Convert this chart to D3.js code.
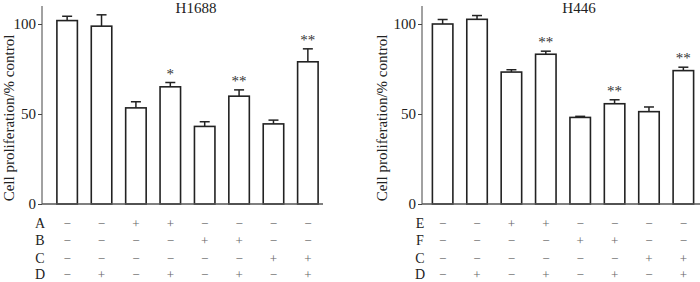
<!DOCTYPE html>
<html><head><meta charset="utf-8">
<script src="https://cdn.jsdelivr.net/npm/d3@7"></script>
<style>body{margin:0;background:#fff}svg{display:block}text{font-family:"Liberation Serif","Times New Roman",serif !important}</style>
</head><body><svg id="c" width="700" height="282"></svg>
<script>
const groups = ["1","2","3","4","5","6","7","8"];
const titleLeft = "H1688";
const titleRight = "H446";
const leftValues = [101.9, 98.8, 53.4, 65.1, 43.1, 59.9, 44.5, 79.0];
const leftErrors = [2.4, 6.3, 3.4, 2.4, 2.6, 3.5, 2.1, 7.2];
const leftStars = ["", "", "", "*", "", "**", "", "**"];
const rightValues = [100.0, 102.6, 73.3, 83.2, 48.1, 55.7, 51.3, 74.1];
const rightErrors = [2.5, 2.1, 1.3, 1.7, 0.6, 2.2, 2.6, 1.9];
const rightStars = ["", "", "", "**", "", "**", "", "**"];
const yTicks = [0, 50, 100];
const yLabel = "Cell proliferation/% control";
const leftRowLabels = ["A", "B", "C", "D"];
const rightRowLabels = ["E", "F", "C", "D"];
const treatmentRows = [
  ["−","−","+","+","−","−","−","−"],
  ["−","−","−","−","+","+","−","−"],
  ["−","−","−","−","−","−","+","+"],
  ["−","+","−","+","−","+","−","+"]
];

const svg = d3.select("#c");
const y = d3.scaleLinear().domain([0, 110]).range([204, 6]);

function panel(ox, axisX, axisEnd, title, values, errors, stars, rowLabels, titleX, labelX) {
  const g = svg.append("g");
  const x = d3.scaleBand().domain(groups).range([ox, ox + 289]).paddingInner(0.404).paddingOuter(0.404);
  const bw = x.bandwidth();
  const ax = g.append("g").attr("transform", `translate(${axisX},0)`)
    .call(d3.axisLeft(y).tickValues(yTicks).tickSize(4).tickPadding(2).tickFormat(d3.format("d")));
  ax.select(".domain").attr("d", `M0,${y(110)}V${y(0)}`).attr("stroke", "#444");
  ax.selectAll(".tick line").attr("stroke", "#444");
  ax.selectAll(".tick text").attr("font-size", 15).attr("fill", "#222");
  groups.forEach((k, i) => {
    const cx = x(k) + bw / 2;
    const top = y(values[i] + errors[i]);
    g.append("line").attr("x1", cx).attr("x2", cx).attr("y1", y(values[i])).attr("y2", top)
      .attr("stroke", "#222").attr("stroke-width", 1.5);
    g.append("line").attr("x1", cx - 5).attr("x2", cx + 5).attr("y1", top).attr("y2", top)
      .attr("stroke", "#222").attr("stroke-width", 1.5);
    if (stars[i]) {
      g.append("text").attr("x", cx).attr("y", top - 4).attr("text-anchor", "middle")
        .attr("font-size", 15).attr("fill", "#333").text(stars[i]);
    }
  });
  g.selectAll("rect.bar").data(values).join("rect").attr("class", "bar")
    .attr("x", (d, i) => x(groups[i])).attr("width", bw)
    .attr("y", d => y(d)).attr("height", d => y(0) - y(d))
    .attr("fill", "#fff").attr("stroke", "#222").attr("stroke-width", 1.6);
  g.append("line").attr("x1", axisX).attr("x2", axisEnd).attr("y1", y(0)).attr("y2", y(0))
    .attr("stroke", "#555").attr("stroke-width", 1.5);
  g.append("text").attr("x", titleX).attr("y", 13).attr("text-anchor", "middle")
    .attr("font-size", 15).attr("fill", "#222").text(title);
  g.append("text").attr("transform", `translate(${labelX},118) rotate(-90)`)
    .attr("text-anchor", "middle").attr("dominant-baseline", "central")
    .attr("font-size", 15).attr("fill", "#222").text(yLabel);
  const rowY = [223, 240.5, 258, 274.5];
  rowLabels.forEach((lab, r) => {
    g.append("text").attr("x", axisX - 2).attr("y", rowY[r]).attr("text-anchor", "middle")
      .attr("dominant-baseline", "central").attr("font-size", 14).attr("fill", "#222").text(lab);
    treatmentRows[r].forEach((s, i) => {
      g.append("text").attr("x", x(groups[i]) + bw / 2).attr("y", rowY[r])
        .attr("text-anchor", "middle").attr("dominant-baseline", "central")
        .attr("font-size", 13).attr("fill", "#666").text(s);
    });
  });
}

panel(43, 42, 323, titleLeft, leftValues, leftErrors, leftStars, leftRowLabels, 196, 9);
panel(418.5, 422, 700, titleRight, rightValues, rightErrors, rightStars, rightRowLabels, 579, 382);
</script></body></html>
